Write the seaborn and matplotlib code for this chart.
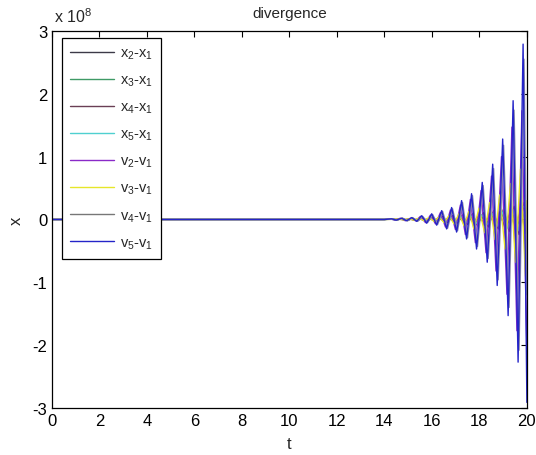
import numpy as np
import pandas as pd
import matplotlib
matplotlib.use("Agg")
import matplotlib.pyplot as plt
import seaborn as sns

# values in units of 1e8, read at the extrema of each trace
t_blue = [0, 14.0, 14.3, 14.5, 14.72, 14.93, 15.15, 15.36, 15.57, 15.78, 15.99, 16.2,
          16.41, 16.62, 16.83, 17.04, 17.25, 17.46, 17.67, 17.88, 18.12, 18.33, 18.56,
          18.75, 18.98, 19.21, 19.42, 19.63, 19.84, 20.0]
t_gray = [0, 14.0, 14.34, 14.54, 14.76, 14.97, 15.19, 15.40, 15.61, 15.82, 16.03, 16.24,
          16.45, 16.66, 16.87, 17.08, 17.29, 17.50, 17.71, 17.92, 18.16, 18.37, 18.60,
          18.79, 19.02, 19.25, 19.46, 19.67, 19.88, 20.0]
t_purple = [0, 14.0, 14.25, 14.45, 14.67, 14.88, 15.10, 15.31, 15.52, 15.73, 15.94, 16.15,
            16.36, 16.57, 16.78, 16.99, 17.20, 17.41, 17.62, 17.83, 18.07, 18.28, 18.51,
            18.70, 18.93, 19.16, 19.37, 19.58, 19.79, 20.0]
t_yellow = [0, 14.0, 14.6, 14.82, 15.03, 15.25, 15.46, 15.67, 15.88, 16.09, 16.30, 16.51,
            16.72, 16.93, 17.14, 17.35, 17.56, 17.77, 17.98, 18.22, 18.43, 18.66, 18.85,
            19.08, 19.31, 19.52, 19.73, 19.94, 20.0]

x2_x1 = [0.0, 0.0, 0.01, -0.01, 0.02, -0.02, 0.02, -0.02, 0.03, -0.03, 0.04, -0.04, 0.05,
         -0.05, 0.06, -0.06, 0.07, -0.08, 0.09, -0.10, 0.11, -0.12, 0.14, -0.15, 0.17,
         -0.19, 0.21, -0.24, 0.27, -0.10]
x3_x1 = [0.0, 0.0, 0.005, -0.005, 0.01, -0.01, 0.01, -0.01, 0.015, -0.015, 0.02, -0.02,
         0.025, -0.03, 0.035, -0.04, 0.045, -0.05, 0.055, -0.06, 0.07, -0.08, 0.09, -0.10,
         0.11, -0.12, 0.14, -0.15, 0.17, -0.18]
x4_x1 = [0.0, 0.0, 0.005, -0.005, 0.01, -0.01, 0.015, -0.015, 0.02, -0.02, 0.03, -0.03,
         0.04, -0.04, 0.05, -0.05, 0.06, -0.07, 0.08, -0.09, 0.10, -0.11, 0.12, -0.14,
         0.16, -0.18, 0.20, -0.22, 0.05]
x5_x1 = [0.0, 0.0, 0.005, -0.005, 0.01, -0.01, 0.01, -0.01, 0.015, -0.015, 0.02, -0.02,
         0.025, -0.03, 0.035, -0.04, 0.045, -0.05, 0.06, -0.065, 0.075, -0.085, 0.095,
         -0.11, 0.12, -0.14, 0.16, -0.18, 0.21, 0.17]
v2_v1 = [0.0, 0.0, 0.01, -0.01, 0.02, -0.02, 0.02, -0.02, 0.05, -0.05, 0.07, -0.07, 0.11,
         -0.12, 0.15, -0.16, 0.23, -0.24, 0.32, -0.37, 0.46, -0.53, 0.69, -0.82, 1.00,
         -1.19, 1.47, -1.77, 1.73, -2.05]
v3_v1 = [0.0, 0.0, 0.005, -0.005, 0.01, -0.01, 0.02, -0.02, 0.03, -0.03, 0.04, -0.05,
         0.06, -0.07, 0.09, -0.10, 0.13, -0.15, 0.18, -0.21, 0.27, -0.32, 0.39, -0.47,
         0.57, -0.68, 0.80, -0.90, 0.30]
v4_v1 = [0.0, 0.0, 0.01, -0.01, 0.02, -0.02, 0.03, -0.03, 0.05, -0.05, 0.08, -0.08, 0.13,
         -0.14, 0.17, -0.18, 0.27, -0.29, 0.38, -0.43, 0.54, -0.62, 0.81, -0.96, 1.18,
         -1.40, 1.74, -2.08, 2.55, -1.20]
v5_v1 = [0.0, 0.0, 0.01, -0.01, 0.02, -0.02, 0.03, -0.03, 0.06, -0.06, 0.09, -0.09, 0.14,
         -0.15, 0.19, -0.20, 0.30, -0.31, 0.41, -0.47, 0.59, -0.68, 0.88, -1.05, 1.28,
         -1.53, 1.89, -2.27, 2.79, -2.91]

labels = ["x$_2$-x$_1$", "x$_3$-x$_1$", "x$_4$-x$_1$", "x$_5$-x$_1$",
          "v$_2$-v$_1$", "v$_3$-v$_1$", "v$_4$-v$_1$", "v$_5$-v$_1$"]
series = [(t_gray, x2_x1), (t_purple, x3_x1), (t_yellow, x4_x1), (t_blue, x5_x1),
          (t_purple, v2_v1), (t_yellow, v3_v1), (t_gray, v4_v1), (t_blue, v5_v1)]
colors = ["#3c3a48", "#3f9a66", "#6a3f55", "#4fd0d0",
          "#8a2ac8", "#e6e62a", "#8c8ca8", "#2424c8"]

frames = []
for lab, (t, v) in zip(labels, series):
    frames.append(pd.DataFrame({"t": t, "x": v, "series": lab}))
df = pd.concat(frames, ignore_index=True)

sns.set_style("white")
plt.rcParams["font.family"] = ["Liberation Sans", "DejaVu Sans"]
plt.rcParams["mathtext.fontset"] = "custom"
plt.rcParams["mathtext.rm"] = "Liberation Sans"
plt.rcParams["mathtext.it"] = "Liberation Sans"
plt.rcParams["axes.unicode_minus"] = False

fig = plt.figure(figsize=(5.36, 4.56), dpi=100)
ax = fig.add_axes([0.097, 0.103, 0.886, 0.827])

sns.lineplot(data=df, x="t", y="x", hue="series", hue_order=labels,
             palette=dict(zip(labels, colors)), sort=False, estimator=None,
             linewidth=1.0, ax=ax)

ax.set_xlim(0, 20)
ax.set_ylim(-3, 3)
ax.set_xticks(np.arange(0, 21, 2))
ax.set_yticks(np.arange(-3, 4, 1))
ax.tick_params(direction="in", length=4, width=0.8, top=True, right=True,
               labelsize=12, colors="black")
for s in ax.spines.values():
    s.set_color("black")
    s.set_linewidth(0.9)

ax.set_title("divergence", fontsize=11, pad=10)
ax.set_xlabel("t", fontsize=12, labelpad=6)
ax.set_ylabel("x", fontsize=12, labelpad=6, rotation=90)
ax.text(0.005, 1.016, "x 10$^8$", transform=ax.transAxes, fontsize=11.5,
        ha="left", va="bottom")

leg = ax.legend(loc="upper left", bbox_to_anchor=(0.021, 0.982), fontsize=10.5,
                frameon=True, fancybox=False, edgecolor="black", framealpha=1,
                handlelength=3.0, labelspacing=0.8, borderpad=0.55,
                handletextpad=0.45, borderaxespad=0)
leg.get_frame().set_linewidth(0.9)
leg.get_lines()[6].set_color("#777777")

fig.savefig("out.png", dpi=100)
